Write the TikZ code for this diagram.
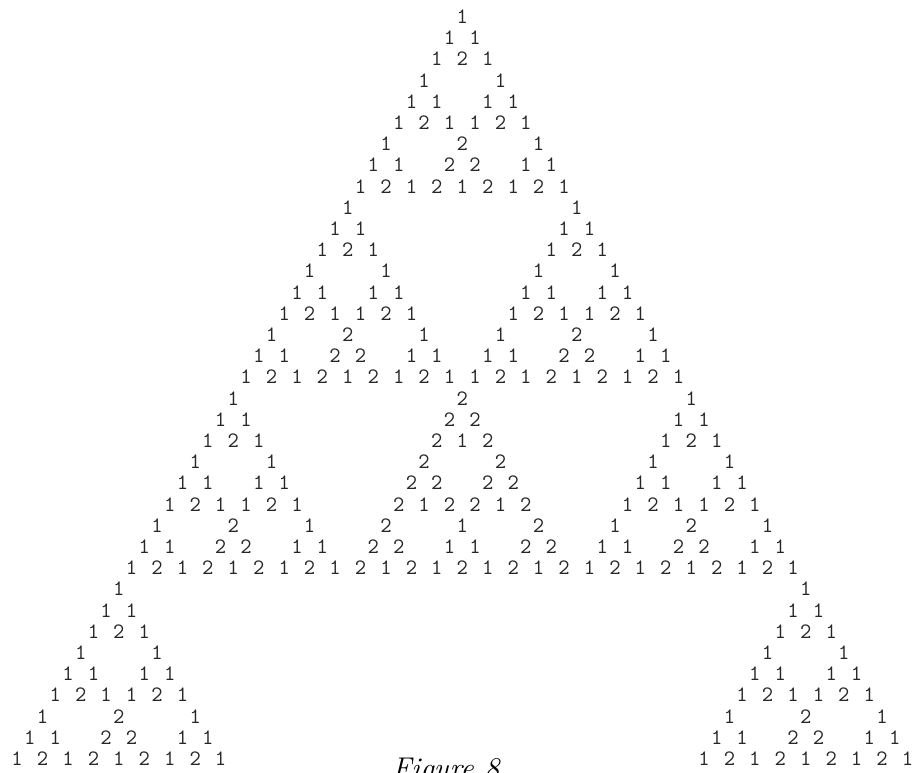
\documentclass[tikz,border=0pt]{standalone}
\tikzset{
  digit/.style={inner sep=0pt, font=\ttfamily\fontsize{22}{26}\selectfont, text=black!85},
  caption/.style={inner sep=0pt, anchor=base west, font=\itshape\fontsize{30}{36}\selectfont},
  declare function={cd(\s,\t)=(\t>\s)?0:(((\s==2)&&(\t==1))?2:1);}
}
\begin{document}
\begin{tikzpicture}[x=1pt,y=1pt]
\useasboundingbox (0,-773) rectangle (914,0);
\foreach \n in {0,...,35}{
  \foreach \k in {0,...,\n}{
    \pgfmathtruncatemacro\v{mod(cd(mod(\n,3),mod(\k,3))*cd(mod(floor(\n/3),3),mod(floor(\k/3),3))*cd(mod(floor(\n/9),3),mod(floor(\k/9),3))*cd(floor(\n/27),floor(\k/27)),3)}
    \ifnum\v>0
      \node[digit] (p-\n-\k) at ({462.3+(2*\k-\n)*12.72},{-16.7-21.2*\n}) {\v};
    \fi
  }
}
\node[caption] (cap) at (392,-778.5) {Figure 8};
\end{tikzpicture}
\end{document}
